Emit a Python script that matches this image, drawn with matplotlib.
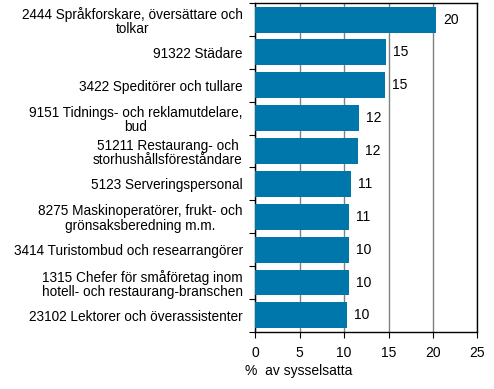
import matplotlib.pyplot as plt
import numpy as np

plt.rcParams['font.family'] = ['Liberation Sans', 'DejaVu Sans']

# Yrken, uppifrån och ned
yrken = [
    "2444 Språkforskare, översättare och\ntolkar",
    "91322 Städare",
    "3422 Speditörer och tullare",
    "9151 Tidnings- och reklamutdelare,\nbud",
    "51211 Restaurang- och\nstorhushållsföreståndare",
    "5123 Serveringspersonal",
    "8275 Maskinoperatörer, frukt- och\ngrönsaksberedning m.m.",
    "3414 Turistombud och researrangörer",
    "1315 Chefer för småföretag inom\nhotell- och restaurang-branschen",
    "23102 Lektorer och överassistenter",
]
andel = [20.35, 14.7, 14.6, 11.7, 11.6, 10.8, 10.55, 10.5, 10.5, 10.3]
etiketter = ["20", "15", "15", "12", "12", "11", "11", "10", "10", "10"]
xticks = [0, 5, 10, 15, 20, 25]

fig = plt.figure(figsize=(4.94, 3.89), dpi=100)
ax = fig.add_axes([0.5168, 0.147, 0.4494, 0.845])

y = np.arange(len(yrken))
ax.barh(y, andel, height=0.79, color='#0077aa', zorder=3)
for yi, v, t in zip(y, andel, etiketter):
    ax.text(v + 0.8, yi, t, va='center', ha='left', fontsize=10)

ax.set_xlim(0, 25)
ax.set_ylim(len(yrken) - 0.5, -0.5)
ax.set_xticks(xticks)
ax.set_xticklabels([str(t) for t in xticks], fontsize=10)
ax.xaxis.grid(True, color='#808080', linewidth=1, zorder=0)

# kategoriernas etiketter, tick-markeringar mellan dem
ax.set_yticks(np.arange(len(yrken) + 1) - 0.5)
ax.set_yticklabels([])
ax.set_yticks(y, minor=True)
ax.set_yticklabels(yrken, minor=True, fontsize=9.8, multialignment='center',
                   linespacing=1.05)
ax.tick_params(axis='y', which='minor', length=0, pad=9)
ax.tick_params(axis='y', which='major', length=4, direction='out')
ax.tick_params(axis='x', length=4, direction='out', pad=6)

for s in ax.spines.values():
    s.set_color('black')
    s.set_linewidth(1)

fig.text(245 / 494, 1 - 371 / 389, "%  av sysselsatta", fontsize=10, ha='left', va='center')

fig.savefig('out.png', dpi=100)
